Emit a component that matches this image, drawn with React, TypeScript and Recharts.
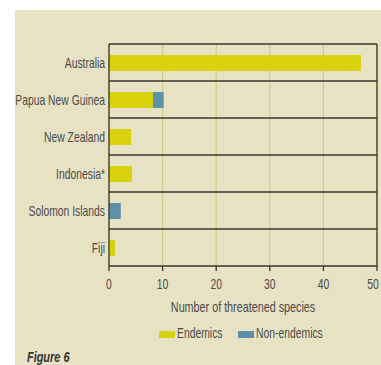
import { Bar, BarChart, CartesianGrid, Legend, ReferenceLine, XAxis, YAxis } from "recharts";

const countries = ["Australia", "Papua New Guinea", "New Zealand", "Indonesia*", "Solomon Islands", "Fiji"];
const endemics = [47, 8.2, 4.1, 4.3, 0, 1.1];
const nonEndemics = [0, 2, 0, 0, 2.2, 0];
const xTicks = [0, 10, 20, 30, 40, 50];

const data = countries.map((country, i) => ({
  country,
  endemics: endemics[i],
  nonEndemics: nonEndemics[i],
}));

const FONT = '"Liberation Sans", Arial, sans-serif';
const FS = 14;
const SQUEEZE = 0.74;
const TEXT = "#4a4a4a";
const DARK = "#3b352d";
const OLIVE = "#d2c888";
const YELLOW = "#d9d20a";
const BLUE = "#5f90aa";
const BG = "#e8e2c4";

// condensed look: the original uses a narrow face we don't have
function YTick({ x, y, payload }: any) {
  return (
    <text transform={`translate(${x},${y}) scale(${SQUEEZE},1)`} textAnchor="end" dy="0.36em" fill={TEXT} fontSize={FS} fontFamily={FONT}>
      {payload.value}
    </text>
  );
}

function XTick({ x, y, payload }: any) {
  return (
    <text transform={`translate(${x},${y + 16}) scale(${SQUEEZE},1)`} textAnchor="middle" fill={TEXT} fontSize={FS} fontFamily={FONT}>
      {payload.value}
    </text>
  );
}

function XLabel({ viewBox }: any) {
  const cx = viewBox.x + viewBox.width / 2;
  return (
    <text transform={`translate(${cx},312) scale(0.77,1)`} textAnchor="middle" fill={TEXT} fontSize={FS} fontFamily={FONT}>
      Number of threatened species
    </text>
  );
}

function LegendContent() {
  const items = [
    { label: "Endemics", color: YELLOW, left: 159 },
    { label: "Non-endemics", color: BLUE, left: 238 },
  ];
  return (
    <div style={{ position: "relative", height: 16, fontFamily: FONT, fontSize: FS, color: TEXT }}>
      {items.map((it) => (
        <div key={it.label} style={{ position: "absolute", left: it.left, top: 0, height: 16 }}>
          <span style={{ position: "absolute", left: 0, top: 6, width: 16, height: 7, background: it.color }} />
          <span
            style={{
              position: "absolute",
              left: 18,
              top: 0,
              lineHeight: "16px",
              whiteSpace: "nowrap",
              transform: `scaleX(${SQUEEZE})`,
              transformOrigin: "left center",
            }}
          >
            {it.label}
          </span>
        </div>
      ))}
    </div>
  );
}

export default function App() {
  return (
    <div style={{ position: "absolute", left: 0, top: 0, width: 381, height: 365, background: "#fff", overflow: "hidden" }}>
      <div style={{ position: "absolute", left: 15, top: 10, width: 366, height: 355, background: BG }} />
      <div style={{ position: "absolute", left: 0, top: 0 }}>
        <BarChart
          width={381}
          height={365}
          data={data}
          layout="vertical"
          margin={{ top: 44, right: 4, left: 0, bottom: 69 }}
          barSize={16}
        >
          <CartesianGrid horizontal={false} stroke={OLIVE} strokeWidth={1.2} />
          <CartesianGrid
            vertical={false}
            stroke={DARK}
            strokeWidth={1.3}
            horizontalCoordinatesGenerator={({ offset }: any) =>
              countries.map((_, i) => offset.top + (i * offset.height) / countries.length)
            }
          />
          <ReferenceLine x={50} stroke={DARK} strokeWidth={1.3} />
          <XAxis
            type="number"
            domain={[0, 50]}
            ticks={xTicks}
            height={30}
            stroke={DARK}
            strokeWidth={1.3}
            tickSize={5}
            tick={<XTick />}
            label={<XLabel />}
          />
          <YAxis
            type="category"
            dataKey="country"
            width={109}
            stroke={DARK}
            strokeWidth={1.3}
            tickLine={false}
            tickSize={0}
            tickMargin={4}
            interval={0}
            tick={<YTick />}
          />
          <Legend
            verticalAlign="middle"
            content={<LegendContent />}
            wrapperStyle={{ left: 0, width: 381, top: 325 }}
          />
          <Bar dataKey="endemics" name="Endemics" stackId="a" fill={YELLOW} isAnimationActive={false} />
          <Bar dataKey="nonEndemics" name="Non-endemics" stackId="a" fill={BLUE} isAnimationActive={false} />
        </BarChart>
      </div>
      <div
        style={{
          position: "absolute",
          left: 27,
          top: 350,
          lineHeight: "14px",
          fontFamily: FONT,
          fontSize: FS,
          fontWeight: "bold",
          fontStyle: "italic",
          color: "#333",
          whiteSpace: "nowrap",
          transform: `scaleX(${SQUEEZE + 0.04})`,
          transformOrigin: "left center",
        }}
      >
        Figure 6
      </div>
    </div>
  );
}
